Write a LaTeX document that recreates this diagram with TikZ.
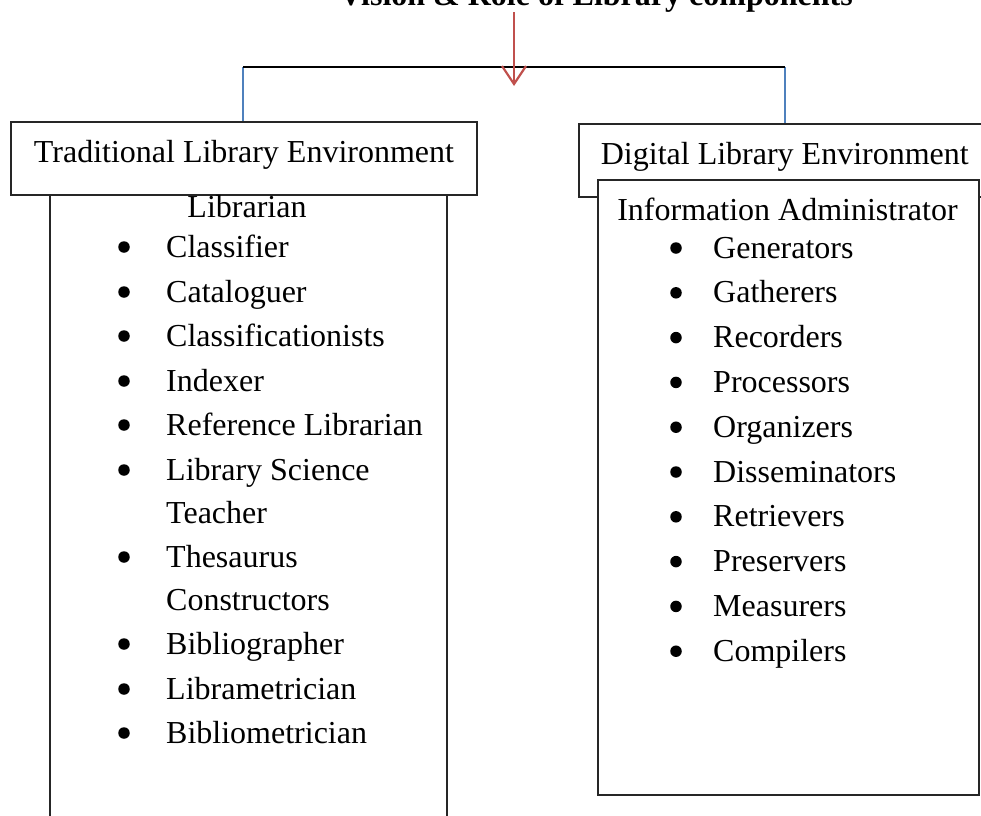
\documentclass[tikz,border=0pt]{standalone}
\usepackage{fontspec}
\setmainfont{Liberation Serif}
\usetikzlibrary{arrows.meta, positioning}
\definecolor{linkblue}{RGB}{79,129,189}
\definecolor{arrowred}{RGB}{192,80,77}

\begin{document}
\begin{tikzpicture}[x=1pt, y=-1pt, line join=miter]
   % Styles
   \tikzset{
    hdr/.style={draw=black!85, line width=1.6pt, fill=white, inner sep=0pt,
      font=\fontsize{32}{38}\selectfont, text height=41pt, text depth=32pt},
    lst/.style={draw=black!85, line width=1.6pt, fill=white, inner sep=0pt, anchor=north west},
    itm/.style={anchor=base west, inner sep=0pt, font=\fontsize{32}{38}\selectfont},
    dot/.style={circle, fill=black, inner sep=0pt, minimum size=11.5pt},
    bar/.style={line width=2.2pt, black},
    link/.style={line width=2.2pt, linkblue},
    arr/.style={line width=2.2pt, arrowred, -{Straight Barb[length=18pt, width=24pt]}}
   }
  \useasboundingbox (0,0) rectangle (981,815);
  \clip (0,0) rectangle (981,815);
  % Title and joints
  \node[anchor=base, inner sep=0pt, font=\fontsize{32}{38}\selectfont\bfseries] (title) at (596,5) {Vision \& Role of Library components};
  \coordinate (jl) at (243,67);
  \coordinate (jr) at (785,67);
  \coordinate (jm) at (514,86);
  % Left side
  \node[lst, minimum width=397pt, minimum height=700pt] (tradlist) at (49,194) {};
  \node[hdr, minimum width=466pt, anchor=north] (trad) at (244,121) {Traditional Library Environment};
  \node[itm, anchor=base] (librarian) at (247,217) {Librarian};
  \foreach \yb/\txt [count=\i] in {257/Classifier, 302/Cataloguer, 346/Classificationists,
      391/Indexer, 435/Reference Librarian, 480/Library Science, 567/Thesaurus,
      654/Bibliographer, 699/Librametrician, 743/Bibliometrician}{
    \node[dot] (tb\i) at (124,\yb-10) {};
    \node[itm] (tl\i) at (166,\yb) {\txt};
  }
  \node[itm] (teacher) at (166,523) {Teacher};
  \node[itm] (constr) at (166,610) {Constructors};
  % Right side
  \node[hdr, minimum width=412pt, anchor=north west] (digi) at (578,123) {Digital Library Environment};
  \node[lst, minimum width=381pt, minimum height=615pt] (digilist) at (597,179) {};
  \node[itm, anchor=base] (admin) at (787.5,220) {Information Administrator};
  \foreach \txt [count=\i from 0] in {Generators, Gatherers, Recorders, Processors, Organizers,
      Disseminators, Retrievers, Preservers, Measurers, Compilers}{
    \node[dot] (db\i) at (676,258+44.8*\i-10) {};
    \node[itm] (dl\i) at (713,258+44.8*\i) {\txt};
  }
  % Connectors
  \draw[link] (jl) -- (jl |- trad.north);
  \draw[link] (jr) -- (jr |- digi.north);
  \draw[bar] (jl) -- (jr);
  \draw[arr] (jm |- title.south) -- (jm);
\end{tikzpicture}
\end{document}
